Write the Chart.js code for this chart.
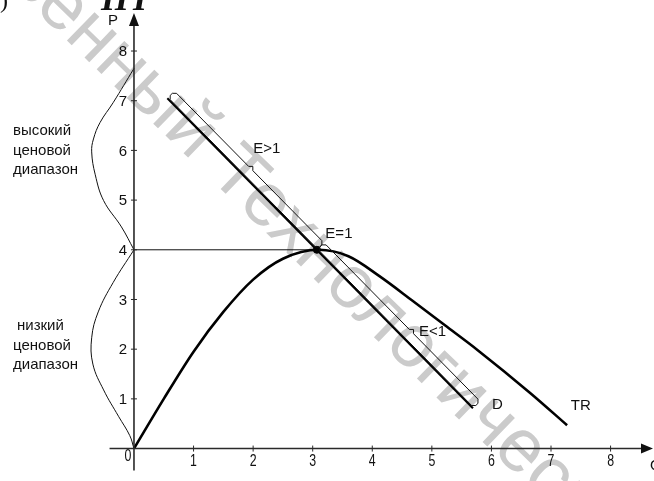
<!DOCTYPE html>
<html>
<head>
<meta charset="utf-8">
<script src="https://cdn.jsdelivr.net/npm/chart.js@4.4.1/dist/chart.umd.min.js"></script>
<style>
  body { margin: 0; background: #fff; }
  canvas { display: block; }
</style>
</head>
<body>
<canvas id="elasticChart" width="654" height="481"></canvas>
<script>
// demand line D
const demandQ = [0.56, 5.69];
const demandP = [7.05, 0.81];

// total revenue TR
const revenueQ = [0, 0.5, 1, 1.5, 2, 2.5, 3.1, 3.6, 4.12, 4.67, 5.22, 5.77, 6.65, 7.27];
const revenueV = [0, 1.0, 1.95, 2.75, 3.4, 3.82, 4.0, 3.87, 3.47, 2.98, 2.48, 1.98, 1.12, 0.47];

// point of unit elasticity
const unitQ = [3.07];
const unitP = [4.0];

// brackets left of the P axis
const highRangeQ = [0, -0.35, -0.57, -0.68, -0.71, -0.65, -0.51, -0.21, 0];
const highRangeP = [7.65, 6.96, 6.56, 6.23, 5.97, 5.51, 4.99, 4.46, 4.0];
const lowRangeQ = [0, -0.35, -0.6, -0.71, -0.69, -0.51, -0.26, -0.07, 0];
const lowRangeP = [4.0, 3.34, 2.75, 2.23, 1.70, 1.18, 0.65, 0.26, 0];

const xTicks = [1, 2, 3, 4, 5, 6, 7, 8];
const yTicks = [1, 2, 3, 4, 5, 6, 7, 8];

const highLabel = ['высокий', 'ценовой', 'диапазон'];
const lowLabel = ['низкий', 'ценовой', 'диапазон'];
const watermark = 'венный Технологический';

function pts(qs, ps) {
  return qs.map((q, i) => ({ x: q, y: ps[i] }));
}

// thin bracket drawn alongside a stretch of the demand line
function drawBrace(ctx, a, b, notchAt) {
  const len = Math.hypot(b.x - a.x, b.y - a.y);
  const ux = (b.x - a.x) / len, uy = (b.y - a.y) / len;
  const nx = uy, ny = -ux;
  const p = (s, d) => [a.x + ux * s + nx * d, a.y + uy * s + ny * d];
  const inner = 1, outer = 10, m = len * notchAt;
  ctx.beginPath();
  ctx.moveTo(...p(3, inner));
  ctx.lineTo(...p(len - 3, inner));
  ctx.lineTo(...p(len, inner + 3));
  ctx.lineTo(...p(len, outer - 3));
  ctx.lineTo(...p(len - 3, outer));
  ctx.lineTo(...p(m + 3, outer));
  ctx.lineTo(...p(m, outer + 3));
  ctx.lineTo(...p(m - 3, outer));
  ctx.lineTo(...p(3, outer));
  ctx.lineTo(...p(0, outer - 3));
  ctx.lineTo(...p(0, inner + 3));
  ctx.closePath();
  ctx.stroke();
}

const backdrop = {
  id: 'backdrop',
  beforeDatasetsDraw(chart) {
    const ctx = chart.ctx;
    const size = 75;
    ctx.save();
    ctx.font = size + 'px "Liberation Sans", Arial, sans-serif';
    ctx.fillStyle = '#cbcbcb';
    const lead = ctx.measureText('венный ').width + ctx.measureText('Т').width / 2;
    ctx.translate(242, 172);
    ctx.rotate(Math.atan2(457, 473));
    ctx.fillText(watermark, -lead, 0.36 * size);
    ctx.restore();
  }
};

const axesAndNotes = {
  id: 'axesAndNotes',
  afterDatasetsDraw(chart) {
    const ctx = chart.ctx;
    const xs = chart.scales.x, ys = chart.scales.y;
    const x0 = xs.getPixelForValue(0), y0 = ys.getPixelForValue(0);
    const W = chart.width;
    ctx.save();

    // brackets along D
    ctx.strokeStyle = '#111';
    ctx.lineWidth = 1;
    const dStart = { x: xs.getPixelForValue(demandQ[0]), y: ys.getPixelForValue(demandP[0]) };
    const dEnd = { x: xs.getPixelForValue(demandQ[1]), y: ys.getPixelForValue(demandP[1]) };
    const eP = { x: xs.getPixelForValue(unitQ[0]), y: ys.getPixelForValue(unitP[0]) };
    drawBrace(ctx, dStart, eP, 0.51);
    drawBrace(ctx, eP, dEnd, 0.56);

    // axes
    ctx.strokeStyle = '#2a2a2a';
    ctx.fillStyle = '#111';
    ctx.lineWidth = 1.6;
    ctx.beginPath();
    ctx.moveTo(xs.getPixelForValue(-0.41), y0);
    ctx.lineTo(W - 8, y0);
    ctx.moveTo(x0, ys.getPixelForValue(-0.44));
    ctx.lineTo(x0, 22);
    ctx.stroke();
    ctx.beginPath();
    ctx.moveTo(W - 1, y0);
    ctx.lineTo(W - 13, y0 - 5);
    ctx.lineTo(W - 13, y0 + 5);
    ctx.closePath();
    ctx.moveTo(x0, 13);
    ctx.lineTo(x0 - 5, 26);
    ctx.lineTo(x0 + 5, 26);
    ctx.closePath();
    ctx.fill();

    // tick marks
    ctx.lineWidth = 1;
    ctx.beginPath();
    xTicks.forEach(t => {
      const x = xs.getPixelForValue(t);
      ctx.moveTo(x, y0 - 3);
      ctx.lineTo(x, y0 + 3);
    });
    yTicks.forEach(t => {
      const y = ys.getPixelForValue(t);
      ctx.moveTo(x0 - 3, y);
      ctx.lineTo(x0 + 3, y);
    });
    ctx.stroke();

    // tick labels
    ctx.fillStyle = '#111';
    ctx.font = '13px "Liberation Sans", Arial, sans-serif';
    ctx.textAlign = 'center';
    ctx.textBaseline = 'middle';
    const tall = (txt, x, y) => {
      ctx.save();
      ctx.translate(x, y);
      ctx.scale(0.95, 1.3);
      ctx.fillText(txt, 0, 0);
      ctx.restore();
    };
    xTicks.forEach(t => tall(String(t), xs.getPixelForValue(t), y0 + 13));
    tall('0', x0 - 6, y0 + 8);
    ctx.font = '15px "Liberation Sans", Arial, sans-serif';
    ctx.textAlign = 'right';
    yTicks.forEach(t => ctx.fillText(String(t), x0 - 7, ys.getPixelForValue(t) + 1));

    // axis names
    ctx.textAlign = 'left';
    ctx.fillText('P', 108, 21);
    ctx.fillText('Q', W - 4, y0 + 17);

    // curve labels
    const note = (txt, q, v) => ctx.fillText(txt, xs.getPixelForValue(q), ys.getPixelForValue(v));
    ctx.textAlign = 'center';
    note('E>1', 2.23, 6.03);
    note('E=1', 3.44, 4.32);
    note('E<1', 5.01, 2.34);
    note('D', 6.1, 0.87);
    note('TR', 7.5, 0.85);

    // price range captions
    ctx.font = '15px "Liberation Sans", Arial, sans-serif';
    ctx.textAlign = 'left';
    highLabel.forEach((s, i) => ctx.fillText(s, 13, 131 + i * 19.5));
    lowLabel.forEach((s, i) => ctx.fillText(s, i === 0 ? 17 : 13, 326 + i * 19.5));

    // heading fragment at the top edge
    ctx.font = 'bold italic 36px "Liberation Serif", serif';
    ctx.textBaseline = 'alphabetic';
    ctx.fillText('П', 101, 10);
    ctx.fillText('I', 133, 10);
    ctx.font = '24px "Liberation Serif", serif';
    ctx.fillText(')', 0, 8);
    ctx.restore();
  }
};

new Chart('elasticChart', {
  type: 'scatter',
  data: {
    datasets: [
      {
        data: pts(demandQ, demandP),
        showLine: true,
        borderColor: '#000',
        borderWidth: 2,
        pointRadius: 0
      },
      {
        data: pts(revenueQ, revenueV),
        showLine: true,
        borderColor: '#000',
        borderWidth: 2.6,
        cubicInterpolationMode: 'monotone',
        pointRadius: 0
      },
      {
        data: pts([0, unitQ[0]], [unitP[0], unitP[0]]),
        showLine: true,
        borderColor: '#111',
        borderWidth: 1,
        pointRadius: 0
      },
      {
        data: pts(highRangeQ, highRangeP),
        showLine: true,
        borderColor: '#111',
        borderWidth: 1,
        tension: 0.4,
        pointRadius: 0
      },
      {
        data: pts(lowRangeQ, lowRangeP),
        showLine: true,
        borderColor: '#111',
        borderWidth: 1,
        tension: 0.4,
        pointRadius: 0
      },
      {
        data: pts(unitQ, unitP),
        backgroundColor: '#000',
        borderColor: '#000',
        pointRadius: 3.5
      }
    ]
  },
  options: {
    responsive: false,
    animation: false,
    layout: { padding: 0 },
    plugins: {
      legend: { display: false },
      tooltip: { enabled: false }
    },
    scales: {
      x: { type: 'linear', display: false, min: -2.165, max: 8.645 },
      y: { type: 'linear', display: false, min: -0.552, max: 8.926 }
    }
  },
  plugins: [backdrop, axesAndNotes]
});
</script>
</body>
</html>
